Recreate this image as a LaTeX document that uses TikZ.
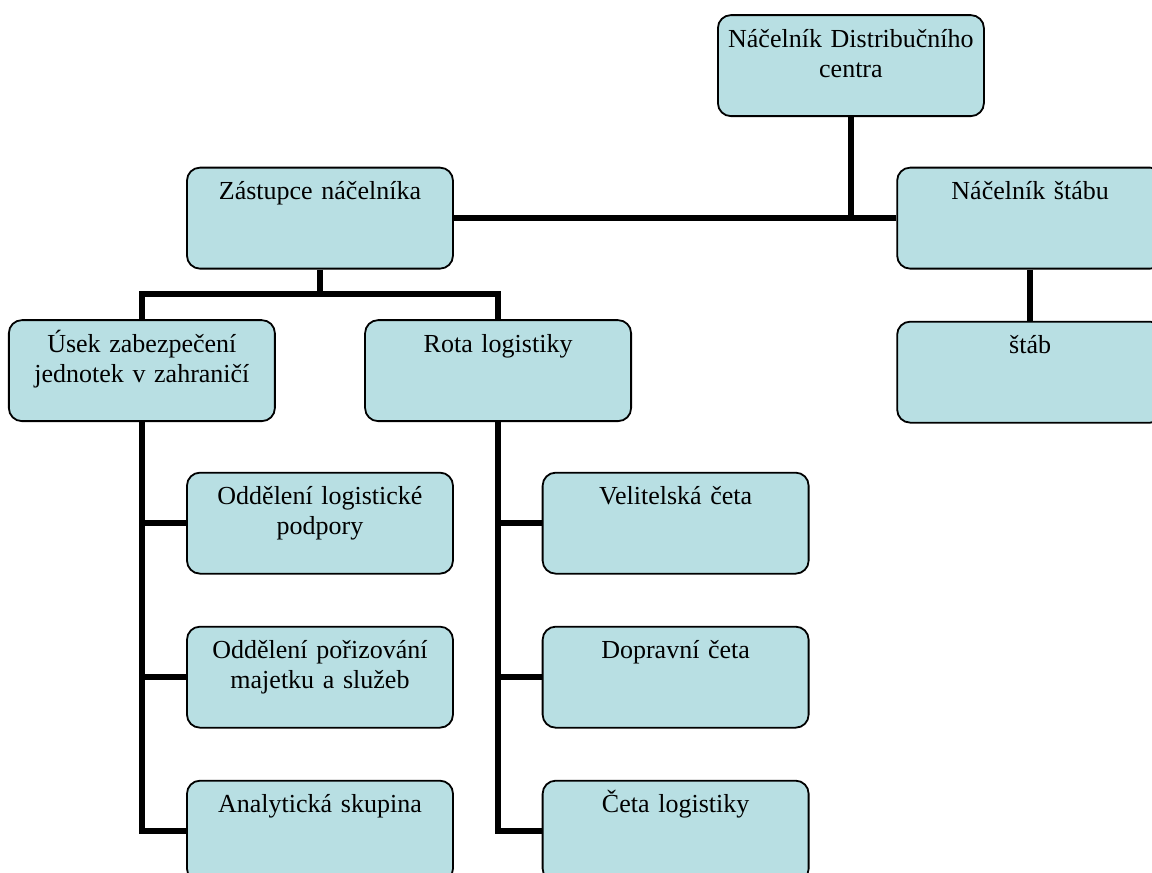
\documentclass[tikz,border=0pt]{standalone}
\usepackage{fontspec}
\setmainfont{Liberation Serif}
\usepackage{tikz}
\usetikzlibrary{positioning}
\definecolor{aqua}{RGB}{184,223,227}

\tikzset{
	unit/.style = {draw, fill=aqua, line width=0.9pt, rounded corners=6.5pt,
		minimum width=133pt, inner xsep=2pt, text width=129pt, align=center,
		inner ysep=5pt, text height=11pt, text depth=29.5pt,
		font=\fontsize{13pt}{15pt}\selectfont},
	link/.style = {line width=3pt}
}

\begin{document}
\begin{tikzpicture}
		\useasboundingbox (0,0) rectangle (576pt,-436.5pt);
		
		%----------------------------------------------------------------
		\node(chief) [unit,anchor=north west] at (12.60,-0.25) {Náčelník Distribučního \\ centra};
		\node(deputy) [unit,anchor=north west] at (3.27,-2.93) {Zástupce náčelníka};
		\node(staffchief) [unit,anchor=north west] at (15.75,-2.93) {Náčelník štábu};
		\node(staff) [unit,below=0.9cm of staffchief] {štáb};
		
		%----------------------------------------------------------------
		\node(abroad) [unit,anchor=north west] at (0.14,-5.61) {Úsek zabezpečení \\ jednotek v zahraničí};
		\node(company) [unit,anchor=north west] at (6.40,-5.61) {Rota logistiky};
		
		%----------------------------------------------------------------
		\node(support) [unit,anchor=north west] at (3.27,-8.29) {Oddělení logistické \\ podpory};
		\node(purchase) [unit,below=0.9cm of support] {Oddělení pořizování \\ majetku a služeb};
		\node(analysis) [unit,below=0.9cm of purchase] {Analytická skupina};
		
		%----------------------------------------------------------------
		\node(command) [unit,anchor=north west] at (9.52,-8.29) {Velitelská četa};
		\node(transport) [unit,below=0.9cm of command] {Dopravní četa};
		\node(platoon) [unit,below=0.9cm of transport] {Četa logistiky};
		
		%----------------------------------------------------------------
		\draw [link] (deputy.east) -- (staffchief.west);
		\draw [link] (chief.south) -- (chief.south |- deputy.east);
		\draw [link] (staffchief.south) -- (staff.north);
		
		\draw [link] (deputy.south) -- ++(0,-0.45);
		\draw [link] (abroad.north) -- ++(0,0.45) -| (company.north);
		
		\draw [link] (abroad.south) |- (analysis.west);
		\draw [link] (abroad.south |- support.west) -- (support.west);
		\draw [link] (abroad.south |- purchase.west) -- (purchase.west);
		
		\draw [link] (company.south) |- (platoon.west);
		\draw [link] (company.south |- command.west) -- (command.west);
		\draw [link] (company.south |- transport.west) -- (transport.west);
		
	\end{tikzpicture}
\end{document}
